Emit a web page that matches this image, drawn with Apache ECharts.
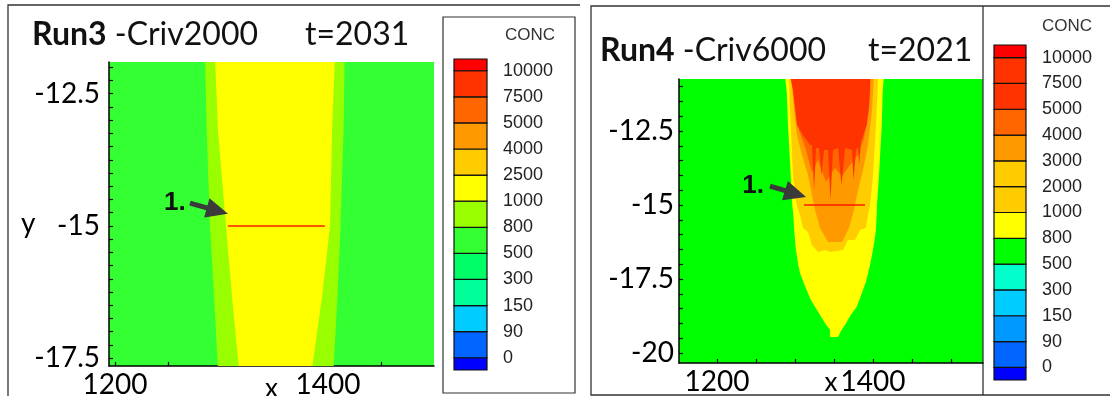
<!DOCTYPE html>
<html>
<head>
<meta charset="utf-8">
<script src="https://cdn.jsdelivr.net/npm/echarts@6/dist/echarts.min.js"></script>
<style>
html,body{margin:0;padding:0;background:#fff;}
#chart{width:1110px;height:396px;}
</style>
</head>
<body>
<div id="chart"></div>
<script>
// ---------------- DATA ----------------
// Run3 (left) axes
const run3XTicks = [1200, 1250, 1300, 1350, 1400, 1450, 1500];
const run3XLabels = [1200, 1400];
const run3YTicks = [-17.5, -17.25, -17, -16.75, -16.5, -16.25, -16, -15.75, -15.5, -15.25, -15, -14.75, -14.5, -14.25, -14, -13.75, -13.5, -13.25, -13, -12.75, -12.5, -12.25, -12];
const run3YLabels = [-17.5, -15, -12.5];
// Run3 contour bands: boundaries (y levels and x positions)
const run3BandY = [-11.8, -13.19, -15, -16.34, -17.7];
const run3OuterLeftX = [1284.5, 1286.1, 1289.2, 1293.0, 1296.7];
const run3InnerLeftX = [1293.9, 1296.7, 1304.2, 1309.9, 1316.4];
const run3InnerRightX = [1406.6, 1403.8, 1401.9, 1394.4, 1385.0];
const run3OuterRightX = [1415.6, 1414.6, 1411.7, 1408.9, 1405.2];
const run3Section = [[1306, -15], [1397, -15]];
const run3Arrow = [[1270.4, -14.57, 1306.1, -14.77]];
const run3Marker = [[1256.3, -14.57, '1.']];

// Run4 (right) axes
const run4XTicks = [1200, 1250, 1300, 1350, 1400, 1450, 1500];
const run4XLabels = [1200, 1400];
const run4YTicks = [-20, -19.5, -19, -18.5, -18, -17.5, -17, -16.5, -16, -15.5, -15, -14.5, -14, -13.5, -13, -12.5, -12, -11.5, -11];
const run4YLabels = [-20, -17.5, -15, -12.5];
// Run4 plume contour polygons [x, y]
const run4Band800 = [[1287, -10.6], [1289.4, -11.18], [1291, -12.30], [1294.5, -13.99], [1296.5, -15.0], [1297.8, -15.34], [1299.1, -15.91], [1300.9, -16.45], [1304.2, -17.03], [1306.4, -17.30], [1310.6, -17.59], [1315.0, -17.87], [1319.2, -18.15], [1325.6, -18.44], [1332.1, -18.72], [1338.5, -19.00], [1344.9, -19.22], [1344.9, -19.46], [1355.1, -19.46], [1359.9, -19.22], [1365.4, -19.00], [1371.4, -18.72], [1379.1, -18.44], [1383.3, -18.15], [1391.0, -17.59], [1396.2, -17.03], [1400.4, -16.45], [1403.5, -15.91], [1404.7, -15.34], [1405.1, -15.0], [1407.7, -13.99], [1411.2, -12.30], [1412.4, -11.18], [1414.1, -10.6]];
const run4Band1000 = [[1292.3, -10.6], [1293.6, -11.72], [1294.5, -12.30], [1297.4, -13.99], [1302.2, -15.0], [1306.4, -15.34], [1310.3, -15.78], [1316.7, -15.91], [1321.8, -16.35], [1329.5, -16.59], [1338.5, -16.52], [1344.9, -16.59], [1361.5, -16.52], [1367.9, -16.18], [1376.9, -16.18], [1383.3, -15.84], [1391.0, -15.78], [1393.6, -15.34], [1396.2, -15.0], [1400.0, -13.99], [1403.8, -12.30], [1405.8, -11.18], [1406.4, -10.6]];
const run4Band3000 = [[1294.9, -10.6], [1298.7, -11.79], [1302.6, -12.64], [1309.0, -13.31], [1316.7, -13.99], [1321.8, -14.66], [1325.6, -15.17], [1332.1, -15.78], [1342.3, -16.25], [1360.3, -16.25], [1369.2, -15.78], [1375.6, -15.17], [1380.8, -14.49], [1387.2, -13.82], [1393.6, -12.97], [1398.7, -11.79], [1401.3, -10.6]];
const run4Band4000 = [[1296.2, -10.6], [1301.3, -11.79], [1305.1, -12.47], [1314.1, -13.14], [1321.8, -13.89], [1329.5, -13.48], [1339.7, -14.22], [1351.3, -13.75], [1360.3, -14.02], [1370.5, -13.65], [1380.8, -13.31], [1388.5, -12.74], [1393.6, -11.79], [1397.4, -10.6]];
const run4Band5000 = [[1293.6, -10.6], [1297.4, -11.12], [1300, -11.72], [1302.6, -12.30], [1310.3, -12.64], [1319.2, -12.97], [1321.8, -12.97], [1324.4, -14.49], [1326.9, -13.07], [1330.8, -13.07], [1334.0, -13.99], [1337.2, -13.14], [1342.3, -13.14], [1345.5, -14.83], [1348.7, -13.14], [1355.1, -13.07], [1359.6, -14.32], [1364.1, -13.07], [1373.1, -13.14], [1375.0, -14.16], [1378.2, -13.14], [1380.8, -13.04], [1382.1, -13.65], [1384.6, -12.87], [1391.9, -12.30], [1394.9, -11.72], [1396.2, -11.12], [1396.2, -10.6]];
const run4Section = [[1311.5, -15], [1389.7, -15]];
const run4Arrow = [[1267.9, -14.36, 1314.1, -14.73]];
const run4Marker = [[1246.2, -14.36, '1.']];

// Legends (bottom -> top)
const run3LegendLabels = ['0', '90', '150', '300', '500', '800', '1000', '2500', '4000', '5000', '7500', '10000'];
const run3LegendColors = ['#0000ff', '#0066ff', '#00ccff', '#00ff99', '#00ff66', '#33ff33', '#99ff00', '#ffff00', '#ffcc00', '#ff9900', '#ff6600', '#ff3300', '#ff0000'];
const run4LegendLabels = ['0', '90', '150', '300', '500', '800', '1000', '2000', '3000', '4000', '5000', '7500', '10000'];
const run4LegendColors = ['#0000ff', '#0066ff', '#0099ff', '#00ccff', '#00ffcc', '#00ff00', '#ffff00', '#ffcc00', '#ffcc00', '#ff9900', '#ff6600', '#ff3300', '#ff3300', '#ff0000'];

// ---------------- BUILD ----------------
const TICK_FONT = 'Lato';
const chart = echarts.init(document.getElementById('chart'), null, {renderer: 'canvas'});

function bandPolygon(leftX, rightX, ys) {
  const pts = [];
  for (let i = 0; i < ys.length; i++) pts.push([leftX[i], ys[i]]);
  for (let i = ys.length - 1; i >= 0; i--) pts.push([rightX[i], ys[i]]);
  return pts;
}
const run3Polys = [bandPolygon(run3OuterLeftX, run3OuterRightX, run3BandY), bandPolygon(run3InnerLeftX, run3InnerRightX, run3BandY)];
const run3PolyColors = ['#99ff00', '#ffff00'];
const run4Polys = [run4Band800, run4Band1000, run4Band3000, run4Band4000, run4Band5000];
const run4PolyColors = ['#ffff00', '#ffcc00', '#ff9900', '#ff6600', '#ff3300'];

function polySeries(ai, polys, colors) {
  return {
    type: 'custom', xAxisIndex: ai, yAxisIndex: ai, clip: true, silent: true, z: 2,
    data: polys.map(p => [p[0][0], p[0][1]]),
    renderItem: (params, api) => {
      const i = params.dataIndex;
      const pts = polys[i].map(pt => api.coord(pt));
      const cs = params.coordSys;
      return {type: 'polygon', shape: {points: pts}, style: {fill: colors[i]},
        clipPath: {type: 'rect', shape: {x: cs.x, y: cs.y, width: cs.width, height: cs.height}}};
    }
  };
}
function lineSeries(ai, data) {
  return {type: 'line', xAxisIndex: ai, yAxisIndex: ai, data: data, symbol: 'none', silent: true, z: 5,
    lineStyle: {color: '#ff1a00', width: 1.5}};
}
function arrowSeries(ai, data) {
  return {
    type: 'custom', xAxisIndex: ai, yAxisIndex: ai, silent: true, z: 6, data: data,
    renderItem: (params, api) => {
      const p1 = api.coord([api.value(0), api.value(1)]);
      const p2 = api.coord([api.value(2), api.value(3)]);
      const dx = p2[0] - p1[0], dy = p2[1] - p1[1];
      const len = Math.sqrt(dx * dx + dy * dy);
      const ux = dx / len, uy = dy / len;
      const hl = 22, hw = 10;
      const bx = p2[0] - ux * hl, by = p2[1] - uy * hl;
      return {type: 'group', children: [
        {type: 'line', shape: {x1: p1[0], y1: p1[1], x2: bx + ux * 2, y2: by + uy * 2}, style: {stroke: '#3a3a3a', lineWidth: 5}},
        {type: 'polygon', shape: {points: [[p2[0], p2[1]], [bx - uy * hw, by + ux * hw], [bx + uy * hw, by - ux * hw]]}, style: {fill: '#3a3a3a'}}
      ]};
    }
  };
}
function markerSeries(ai, data) {
  return {
    type: 'custom', xAxisIndex: ai, yAxisIndex: ai, silent: true, z: 6, data: data,
    renderItem: (params, api) => {
      const p = api.coord([api.value(0), api.value(1)]);
      return {type: 'text', x: p[0], y: p[1], style: {text: data[params.dataIndex][2], font: 'bold 26px "Liberation Sans"', fill: '#111', align: 'center', verticalAlign: 'middle'}};
    }
  };
}
function legendSeries(ai, colors, bottomSmall, topSmall) {
  const n = colors.length;
  const data = colors.map((c, i) => {
    const lo = i === 0 ? -bottomSmall : i - 1;
    const hi = i === n - 1 ? (n - 2) + topSmall : i;
    return [lo, hi];
  });
  return {
    type: 'custom', xAxisIndex: ai, yAxisIndex: ai, silent: true, data: data,
    renderItem: (params, api) => {
      const a = api.coord([0, api.value(1)]);
      const b = api.coord([1, api.value(0)]);
      return {type: 'rect', shape: {x: a[0], y: a[1], width: b[0] - a[0], height: b[1] - a[1]},
        style: {fill: colors[params.dataIndex], stroke: '#111', lineWidth: 1.2}};
    }
  };
}
const fmtNum = v => String(v);

function plotXAxis(gi, min, max, ticks, labels, gap) {
  return {type: 'value', gridIndex: gi, min: min, max: max,
    axisLine: {show: true, onZero: false, lineStyle: {color: '#000', width: 1.5}},
    axisTick: {show: true, inside: true, length: 4, customValues: ticks, lineStyle: {color: '#000', width: 1.2}},
    axisLabel: {show: true, customValues: labels, formatter: fmtNum, color: '#000', fontFamily: TICK_FONT, fontSize: 28, margin: 5},
    splitLine: {show: false},
    name: 'x', nameLocation: 'middle', nameGap: gap, nameMoveOverlap: false,
    nameTextStyle: {color: '#000', fontFamily: TICK_FONT, fontSize: 26, verticalAlign: 'top'}};
}
function plotYAxis(gi, min, max, ticks, labels, margin) {
  return {type: 'value', gridIndex: gi, min: min, max: max,
    axisLine: {show: true, onZero: false, lineStyle: {color: '#000', width: 1.5}},
    axisTick: {show: true, inside: true, length: 4, customValues: ticks, lineStyle: {color: '#000', width: 1.2}},
    axisLabel: {show: true, customValues: labels, formatter: fmtNum, color: '#000', fontFamily: TICK_FONT, fontSize: 28, margin: margin},
    splitLine: {show: false}};
}
function legendXAxis(gi) {
  return {type: 'value', gridIndex: gi, min: 0, max: 1, show: false};
}
function legendYAxis(gi, min, max, labels) {
  return {type: 'value', gridIndex: gi, min: min, max: max, position: 'right',
    axisLine: {show: false}, axisTick: {show: false}, splitLine: {show: false},
    axisLabel: {show: true, customValues: labels.map((l, i) => i), formatter: v => labels[Math.round(v)],
      color: '#222', fontFamily: 'Liberation Sans', fontSize: 18, margin: 16, padding: [5, 0, 0, 0]}};
}
const titleStyle = {fontFamily: 'Lato', fontSize: 32, color: '#111', fontWeight: 'normal', rich: {b: {fontFamily: 'Lato', fontSize: 32, fontWeight: 'bold', color: '#111'}}};
const concStyle = {fontFamily: 'Liberation Sans', fontSize: 17, color: '#333', fontWeight: 'normal'};

const option = {
  animation: false,
  backgroundColor: '#fff',
  title: [
    {text: '{b|Run3} -Criv2000', left: 32, top: 19, padding: 0, textStyle: titleStyle},
    {text: 't=2031', left: 305, top: 19, padding: 0, textStyle: titleStyle},
    {text: '{b|Run4} -Criv6000', left: 600, top: 35, padding: 0, textStyle: titleStyle},
    {text: 't=2021', left: 868, top: 35, padding: 0, textStyle: titleStyle},
    {text: 'CONC', left: 505, top: 27, padding: 0, textStyle: concStyle},
    {text: 'CONC', left: 1042, top: 18, padding: 0, textStyle: concStyle}
  ],
  grid: [
    {left: 109, top: 62, width: 325, height: 304, show: true, backgroundColor: '#33ff33', borderWidth: 0, containLabel: false, outerBoundsMode: 'none'},
    {left: 679, top: 79, width: 304, height: 284, show: true, backgroundColor: '#00ff00', borderWidth: 0, containLabel: false, outerBoundsMode: 'none'},
    {left: 454, top: 59, width: 33, height: 311, containLabel: false, outerBoundsMode: 'none'},
    {left: 994, top: 45, width: 32, height: 335, containLabel: false, outerBoundsMode: 'none'}
  ],
  xAxis: [
    plotXAxis(0, 1194.4, 1499.5, run3XTicks, run3XLabels, 10),
    plotXAxis(1, 1151.3, 1541, run4XTicks, run4XLabels, 7),
    legendXAxis(2),
    legendXAxis(3)
  ],
  yAxis: [
    plotYAxis(0, -17.65, -11.9, run3YTicks, run3YLabels, 9),
    plotYAxis(1, -20.34, -10.74, run4YTicks, run4YLabels, 5),
    legendYAxis(2, -0.47, 11.45, run3LegendLabels),
    legendYAxis(3, -0.49, 12.49, run4LegendLabels)
  ],
  graphic: [
    {type: 'polyline', shape: {points: [[8, 400], [8, 5], [580, 5]]}, style: {stroke: '#333', lineWidth: 1.3, fill: null}},
    {type: 'rect', shape: {x: 443, y: 17, width: 132, height: 376}, style: {stroke: '#333', lineWidth: 1.2, fill: null}},
    {type: 'rect', shape: {x: 591, y: 6, width: 530, height: 389}, style: {stroke: '#333', lineWidth: 1.3, fill: null}},
    {type: 'line', shape: {x1: 983, y1: 6, x2: 983, y2: 395}, style: {stroke: '#333', lineWidth: 1.3}},
    {type: 'text', left: 21, top: 210, style: {text: 'y', font: '28px Lato', fill: '#000'}}
  ],
  series: [
    polySeries(0, run3Polys, run3PolyColors),
    lineSeries(0, run3Section),
    arrowSeries(0, run3Arrow),
    markerSeries(0, run3Marker),
    polySeries(1, run4Polys, run4PolyColors),
    lineSeries(1, run4Section),
    arrowSeries(1, run4Arrow),
    markerSeries(1, run4Marker),
    legendSeries(2, run3LegendColors, 0.47, 0.45),
    legendSeries(3, run4LegendColors, 0.49, 0.49)
  ]
};
chart.setOption(option);
</script>
</body>
</html>
